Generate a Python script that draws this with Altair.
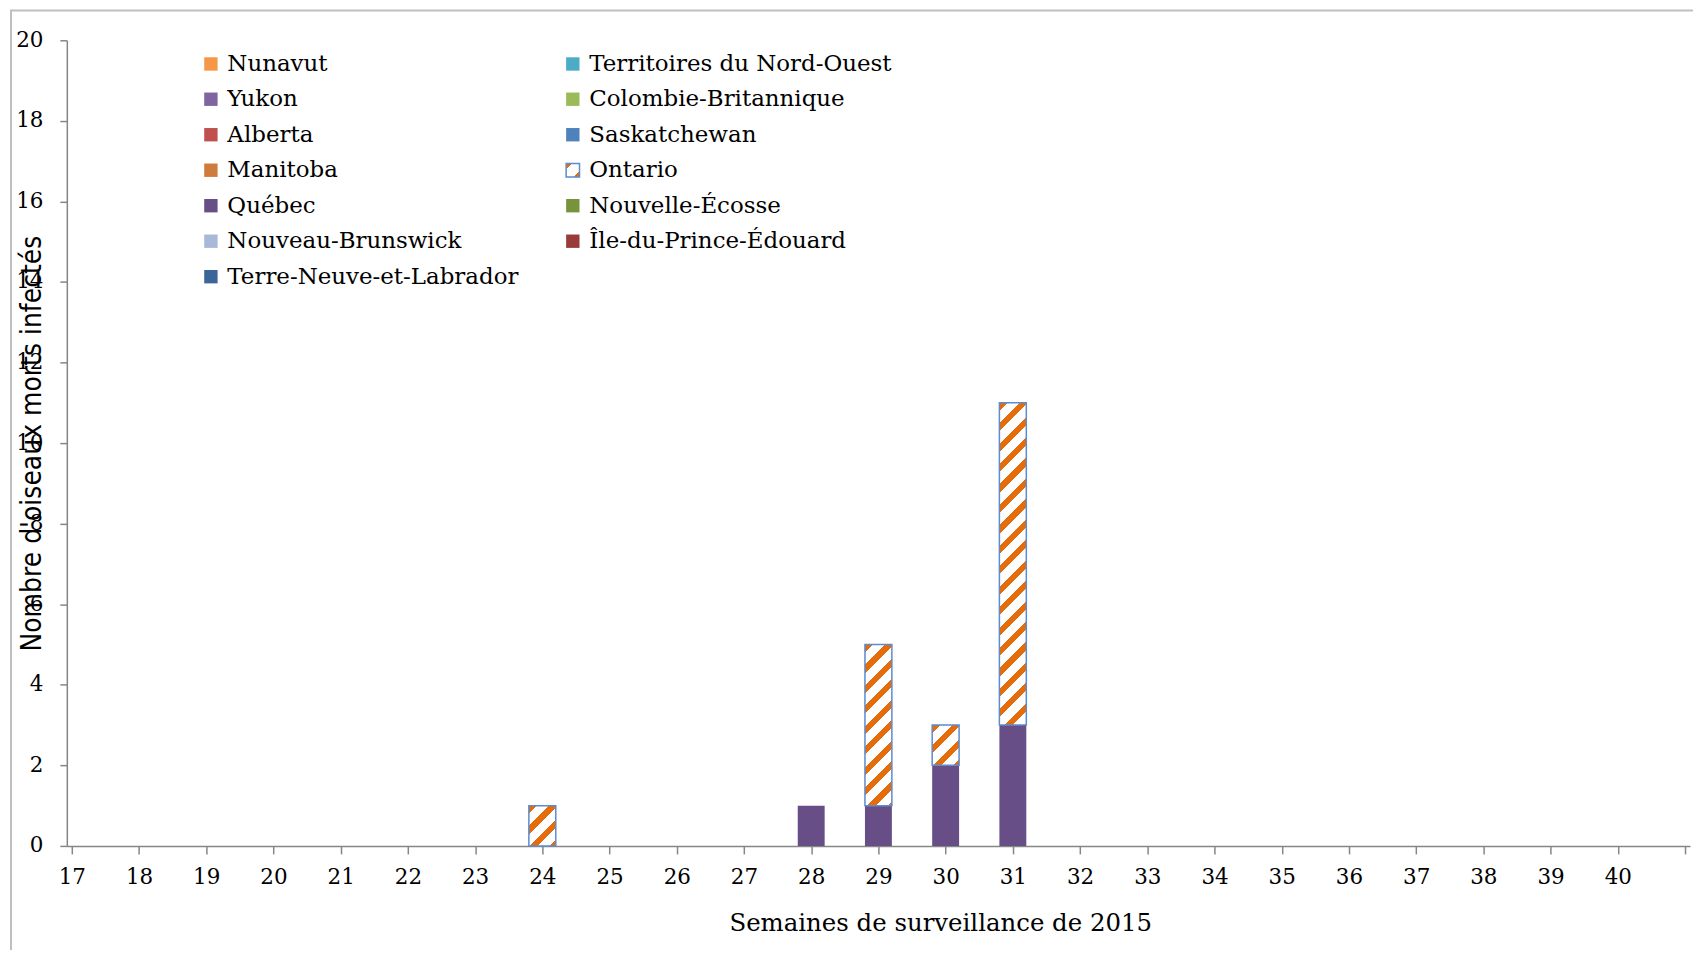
import math
import altair as alt
import pandas as pd

# ---------------- data ----------------
weeks = list(range(17, 41))
quebec = [0] * 11 + [1, 1, 2, 3] + [0] * 9
ontario = [0] * 7 + [1] + [0] * 4 + [4, 1, 8] + [0] * 9

provinces = [
    "Nunavut", "Territoires du Nord-Ouest", "Yukon", "Colombie-Britannique",
    "Alberta", "Saskatchewan", "Manitoba", "Ontario", "Québec",
    "Nouvelle-Écosse", "Nouveau-Brunswick", "Île-du-Prince-Édouard",
    "Terre-Neuve-et-Labrador",
]
colors = [
    "#F79646", "#4BACC6", "#8064A2", "#9BBB59",
    "#C0504D", "#4F81BD", "#CF7B3B", None, "#684E86",
    "#77933C", "#A8B8D8", "#993B3A", "#3C659A",
]
x_ticks = list(range(17, 42))
y_ticks = list(range(0, 21, 2))

x_title = "Semaines de surveillance de 2015"
y_title = "Nombre d'oiseaux morts infectés"

# ---------------- style ----------------
ORANGE = "#E46C0A"
BLUE = "#5B8BD0"
PLOT_W, PLOT_H = 1628, 808
BAR_W = 27
Y_MAX = 20
PERIOD = 20.5      # vertical stripe period in px
ORANGE_FRAC = 0.4

rows = []
for w, q, o in zip(weeks, quebec, ontario):
    if q > 0:
        rows.append({"week": w, "province": "Québec", "count": q, "order": 0})
    if o > 0:
        rows.append({"week": w, "province": "Ontario", "count": o, "order": 1})
df = pd.DataFrame(rows)


def hatch_gradient(w, h):
    """45-degree '/' stripes for a w x h box (gradient in bbox units)."""
    L = w + h
    k = (w + h) / (w * w + h * h)
    stops = []
    n = int(math.ceil(L / PERIOD)) + 1
    for i in range(n):
        a = (i * PERIOD) / L
        b = (i * PERIOD + ORANGE_FRAC * PERIOD) / L
        c = ((i + 1) * PERIOD) / L
        a, b, c = min(a, 1), min(b, 1), min(c, 1)
        stops += [
            {"offset": a, "color": ORANGE},
            {"offset": b, "color": ORANGE},
            {"offset": b, "color": "#FFFFFF"},
            {"offset": c, "color": "#FFFFFF"},
        ]
        if c >= 1:
            break
    return {"gradient": "linear", "x1": 0, "y1": 0,
            "x2": w * k, "y2": h * k, "stops": stops}


legend_stops = [(0, ORANGE), (0.22, ORANGE), (0.22, "#FFFFFF"),
                (0.78, "#FFFFFF"), (0.78, ORANGE), (1, ORANGE)]
legend_expr = ("{gradient: 'linear', x1: 0, y1: 0, x2: 1, y2: 1, stops: ["
               + ", ".join(f"{{offset: {o}, color: '{c}'}}" for o, c in legend_stops)
               + "]}")
color_range = [alt.ExprRef(expr=legend_expr) if c is None else c for c in colors]
stroke_range = [BLUE if c is None else "transparent" for c in colors]

x_enc = alt.X(
    "week:Q",
    scale=alt.Scale(domain=[17, 41], nice=False, zero=False),
    axis=alt.Axis(
        values=x_ticks, title=x_title, labelExpr="datum.value == 41 ? '' : datum.label",
        tickSize=8, labelPadding=13, titleFont="DejaVu Serif", titleFontSize=24.5,
        titleFontWeight="normal", titleColor="black", titleX=876, titleY=66,
        titleBaseline="top", labelFlush=False, labelOverlap=False,
    ),
)
y_enc = alt.Y(
    "y1:Q",
    scale=alt.Scale(domain=[0, Y_MAX], nice=False),
    axis=alt.Axis(
        values=y_ticks, title=y_title, tickSize=7, labelPadding=17,
        titleFont="DejaVu Sans Condensed", titleFontSize=28, titleFontWeight="normal",
        titleColor="black", titleX=-34, titleY=PLOT_H / 2, titleBaseline="middle",
        titleAngle=270, titleAlign="center",
    ),
)

legend = alt.Legend(
    orient="none", legendX=133, legendY=12, columns=2, direction="horizontal",
    title=None, symbolType="square", symbolSize=180, symbolStrokeWidth=1.5,
    labelFont="DejaVu Serif", labelFontSize=23, labelColor="black",
    labelOffset=5, rowPadding=11.6, columnPadding=42, padding=0,
    labelLimit=400,
)

base = alt.Chart(df).transform_stack(
    stack="count", groupby=["week"], as_=["y0", "y1"], sort=[alt.SortField("order")]
)

main = base.transform_filter("datum.province != 'Ontario'").mark_bar(
    size=BAR_W, strokeWidth=1.5
).encode(
    x=x_enc,
    y=y_enc,
    y2="y0:Q",
    color=alt.Color("province:N",
                    scale=alt.Scale(domain=provinces, range=color_range),
                    legend=legend),
    stroke=alt.Stroke("province:N",
                      scale=alt.Scale(domain=provinces, range=stroke_range),
                      legend=legend),
)

layers = [main]
px_per_unit = PLOT_H / Y_MAX
for w, o in zip(weeks, ontario):
    if o > 0:
        grad = hatch_gradient(BAR_W, o * px_per_unit)
        lay = base.transform_filter(
            f"datum.province == 'Ontario' && datum.week == {w}"
        ).mark_bar(size=BAR_W, fill=grad, stroke=BLUE, strokeWidth=1.5).encode(
            x=x_enc, y=y_enc, y2="y0:Q"
        )
        layers.append(lay)

frame = alt.Chart(alt.Data(values=[{}])).mark_rect(
    fill="transparent", stroke="#BFBFBF", strokeWidth=2
).encode(x=alt.value(-56), x2=alt.value(1700), y=alt.value(-30), y2=alt.value(950))

chart = alt.layer(frame, *layers).properties(
    width=PLOT_W, height=PLOT_H,
    autosize=alt.AutoSizeParams(type="none"),
    padding={"left": 59, "top": 31, "right": 3, "bottom": 103},
).configure_view(stroke="transparent").configure_axis(
    grid=False, domainColor="#868686", domainWidth=1.5, tickColor="#868686",
    tickWidth=1.5, labelFont="DejaVu Serif", labelFontSize=21.5, labelColor="black",
)

chart.save("out.html", embed_options={"renderer": "svg", "actions": False})
